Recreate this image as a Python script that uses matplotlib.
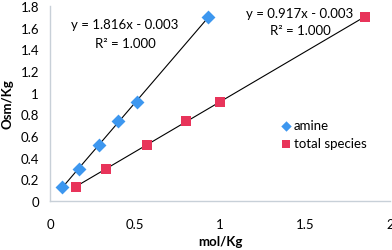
import matplotlib
matplotlib.use("Agg")
import matplotlib.pyplot as plt
import numpy as np

plt.rcParams["font.family"] = ["Lato", "DejaVu Sans"]

amine_x = [0.07, 0.17, 0.29, 0.40, 0.51, 0.93]
amine_y = [0.13, 0.30, 0.52, 0.74, 0.91, 1.70]
total_x = [0.15, 0.33, 0.57, 0.80, 1.00, 1.85]
total_y = [0.13, 0.30, 0.52, 0.74, 0.91, 1.70]
x_ticks = [0, 0.5, 1, 1.5, 2]
y_ticks = [0, 0.2, 0.4, 0.6, 0.8, 1, 1.2, 1.4, 1.6, 1.8]

blue = "#3d97ef"
red = "#e8345a"
fs = 9.5

fig = plt.figure(figsize=(3.92, 2.51), dpi=100)
ax = fig.add_axes([0.128, 0.195, 0.867, 0.777])

for xs, ys in [(amine_x, amine_y), (total_x, total_y)]:
    k, b = np.polyfit(xs, ys, 1)
    lx = np.array([xs[0], xs[-1]])
    ax.plot(lx, k * lx + b, color="black", lw=0.8, zorder=2)

ax.scatter(amine_x, amine_y, marker="D", s=50, color=blue, label="amine", zorder=3, linewidths=0)
ax.scatter(total_x, total_y, marker="s", s=55, color=red, label="total species", zorder=3, linewidths=0)

ax.text(0.44, 1.63, "y = 1.816x - 0.003", ha="center", va="center", fontsize=fs)
ax.text(0.44, 1.46, "R² = 1.000", ha="center", va="center", fontsize=fs)
ax.text(1.47, 1.74, "y = 0.917x - 0.003", ha="center", va="center", fontsize=fs)
ax.text(1.47, 1.58, "R² = 1.000", ha="center", va="center", fontsize=fs)

ax.set_xlim(0, 2)
ax.set_ylim(0, 1.8)
ax.set_xticks(x_ticks)
ax.set_xticklabels(["0", "0.5", "1", "1.5", "2"])
ax.set_yticks(y_ticks)
ax.set_yticklabels(["0", "0.2", "0.4", "0.6", "0.8", "1", "1.2", "1.4", "1.6", "1.8"])
ax.tick_params(length=0, labelsize=fs, pad=8)
ax.tick_params(axis="x", pad=12)
for side in ["top", "right"]:
    ax.spines[side].set_visible(False)
for side in ["left", "bottom"]:
    ax.spines[side].set_color("#c8d0d8")
    ax.spines[side].set_linewidth(1.0)

ax.set_xlabel("mol/Kg", fontsize=fs, fontweight="bold", labelpad=4)
ax.set_ylabel("Osm/Kg", fontsize=fs, fontweight="bold", labelpad=5)

ax.legend(loc="lower left", bbox_to_anchor=(0.64, 0.205), frameon=False, fontsize=fs,
          handletextpad=0.1, handlelength=1.0, labelspacing=0.45, markerscale=0.75)

fig.savefig("out.png", dpi=100)
